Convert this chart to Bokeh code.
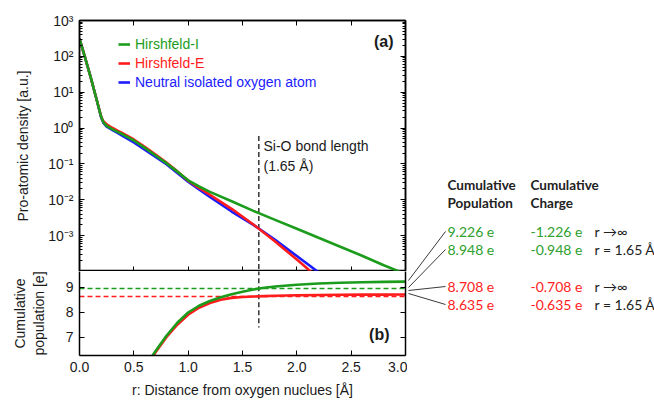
from bokeh.plotting import figure
from bokeh.layouts import column, row
from bokeh.models import (Range1d, LinearAxis, LogAxis, FixedTicker, PrintfTickFormatter,
                          Label, Legend, LegendItem, LinearScale)
from bokeh.core.properties import value
from bokeh.embed import file_html
from bokeh.resources import INLINE

# ---------------- data ----------------
# Pro-atomic densities [a.u.] against r [Å]
r_hi = [0.0, 0.05, 0.1, 0.15, 0.2, 0.22, 0.25, 0.3, 0.35, 0.4, 0.5, 0.6, 0.7, 0.8, 0.9, 1.0,
        1.1, 1.2, 1.4, 1.6, 1.8, 2.0, 2.2, 2.4, 2.6, 2.8, 3.0]
rho_hi = [3.1e2, 9.5e1, 2.8e1, 7.6e0, 2.0e0, 1.45e0, 1.15e0, 9.3e-1, 7.8e-1, 6.6e-1, 4.5e-1,
          2.8e-1, 1.72e-1, 1.05e-1, 6.1e-2, 3.5e-2, 2.35e-2, 1.66e-2, 9.1e-3, 4.9e-3, 2.75e-3,
          1.55e-3, 8.7e-4, 4.9e-4, 2.75e-4, 1.5e-4, 8.5e-5]
r_he = [0.0, 0.05, 0.1, 0.15, 0.2, 0.22, 0.25, 0.3, 0.35, 0.4, 0.5, 0.6, 0.7, 0.8, 0.9, 1.0,
        1.1, 1.2, 1.4, 1.6, 1.8, 2.0, 2.2]
rho_he = [3.1e2, 9.5e1, 2.8e1, 7.6e0, 2.05e0, 1.55e0, 1.27e0, 1.02e0, 8.5e-1, 7.1e-1, 4.8e-1,
          3.0e-1, 1.82e-1, 1.1e-1, 6.2e-2, 3.4e-2, 2.15e-2, 1.38e-2, 5.6e-3, 2.05e-3, 6.9e-4,
          2.15e-4, 6.5e-5]
r_neutral = [0.0, 0.05, 0.1, 0.15, 0.2, 0.22, 0.25, 0.3, 0.35, 0.4, 0.5, 0.6, 0.7, 0.8, 0.9,
             1.0, 1.1, 1.2, 1.4, 1.6, 1.8, 2.0, 2.2]
rho_neutral = [3.1e2, 9.5e1, 2.8e1, 7.6e0, 1.95e0, 1.4e0, 1.1e0, 8.9e-1, 7.3e-1, 6.0e-1, 4.0e-1,
               2.5e-1, 1.58e-1, 9.8e-2, 5.6e-2, 3.2e-2, 1.95e-2, 1.2e-2, 4.7e-3, 2.0e-3, 7.6e-4,
               2.7e-4, 9.5e-5]

# Cumulative populations [e] against r [Å]
r_cum = [0.6, 0.65, 0.7, 0.8, 0.9, 1.0, 1.1, 1.2, 1.3, 1.4, 1.5, 1.6, 1.7, 1.8,
         2.0, 2.2, 2.4, 2.6, 2.8, 3.0]
pop_hi = [5.78, 6.12, 6.45, 7.06, 7.58, 7.99, 8.26, 8.45, 8.60, 8.72, 8.82, 8.91, 8.98,
          9.03, 9.10, 9.15, 9.18, 9.20, 9.215, 9.226]
pop_he = [5.72, 6.06, 6.40, 7.00, 7.50, 7.90, 8.18, 8.37, 8.50, 8.575, 8.61, 8.628, 8.645,
          8.66, 8.68, 8.693, 8.70, 8.704, 8.706, 8.708]

bond_length = 1.65
pop_hi_at_bond = 8.948
pop_he_at_bond = 8.635

legend_labels = ["Hirshfeld-I", "Hirshfeld-E", "Neutral isolated oxygen atom"]
density_ticks = [1e-3, 1e-2, 1e-1, 1e0, 1e1, 1e2, 1e3]
density_tick_labels = ["10⁻³", "10⁻²", "10⁻¹", "10⁰", "10¹", "10²", "10³"]
pop_ticks = [7, 8, 9]
r_ticks = [0.0, 0.5, 1.0, 1.5, 2.0, 2.5, 3.0]

header_pop = ["Cumulative", "Population"]
header_charge = ["Cumulative", "Charge"]
table_pop = ["9.226 e", "8.948 e", "8.708 e", "8.635 e"]
table_charge = ["-1.226 e", "-0.948 e", "-0.708 e", "-0.635 e"]
table_cond = ["r →∞", "r = 1.65 Å", "r →∞", "r = 1.65 Å"]

# ---------------- style ----------------
FONT = "Liberation Sans"
ANN_FONT = "Lato"
GREEN = "#1c9c1c"
RED = "#ff1c1c"
BLUE = "#1c1cff"
TXT_GREEN = "#2ea02e"
TXT_RED = "#ff2222"
LW = 2.6

# page-pixel geometry of the two frames
FX0, FX1 = 79, 405
TOP_Y0, TOP_Y1 = 20, 271
BOT_Y0, BOT_Y1 = 271, 355
LEFT_W = FX1 + 2
PAGE_W, PAGE_H = 654, 402

minor_log = [k * 10.0 ** d for d in range(-4, 3) for k in range(2, 10)]


def style_axis(ax, labels=True):
    ax.axis_line_color = "black"
    ax.axis_line_width = 1.5
    ax.major_tick_in = 5
    ax.major_tick_out = 0
    ax.major_tick_line_color = "black"
    ax.minor_tick_in = 3
    ax.minor_tick_out = 0
    ax.minor_tick_line_color = "black"
    ax.major_label_text_font = FONT
    ax.major_label_text_font_size = "14px"
    ax.major_label_text_color = "#1a1a1a"
    ax.axis_label_text_font = FONT
    ax.axis_label_text_font_size = "14px"
    ax.axis_label_text_font_style = "normal"
    ax.axis_label_text_color = "#1a1a1a"
    if not labels:
        ax.major_label_text_font_size = "1px"
        ax.major_label_text_alpha = 0
        ax.major_label_standoff = 0


def base_fig(height, y_range, y_type, border_top, border_bottom, py0, py1):
    p = figure(width=LEFT_W, height=height, x_range=Range1d(0, 3), y_range=y_range,
               y_axis_type=y_type, x_axis_location=None, y_axis_location=None,
               output_backend="svg", toolbar_location=None,
               min_border_left=FX0, min_border_right=LEFT_W - FX1,
               min_border_top=border_top, min_border_bottom=border_bottom)
    p.xgrid.visible = False
    p.ygrid.visible = False
    p.outline_line_color = "black"
    p.outline_line_width = 1.5
    p.background_fill_color = "white"
    p.border_fill_color = "white"
    # page-pixel coordinate system for in-frame annotations
    p.extra_x_ranges = {"px": Range1d(FX0, FX1)}
    p.extra_y_ranges = {"px": Range1d(py1, py0)}
    p.extra_x_scales = {"px": LinearScale()}
    p.extra_y_scales = {"px": LinearScale()}
    return p


def px_label(p, x, y, text, size="14px", color="#1a1a1a", font=FONT, style="normal",
             align="left"):
    p.add_layout(Label(x=x, y=y, text=text, x_range_name="px", y_range_name="px",
                       text_font=font, text_font_size=size, text_color=color,
                       text_font_style=style, text_align=align, text_baseline="middle"))


# ---------------- top panel ----------------
top = base_fig(TOP_Y1, Range1d(1e-4, 1e3), "log", TOP_Y0, 0, TOP_Y0, TOP_Y1)

log_ticker = FixedTicker(ticks=density_ticks, minor_ticks=minor_log)
overrides = {t: s for t, s in zip(density_ticks, density_tick_labels)}
yl = LogAxis(ticker=log_ticker, major_label_overrides=overrides,
             axis_label="Pro-atomic density [a.u.]")
style_axis(yl)
yl.major_label_standoff = 6
yl.axis_label_standoff = 14
top.add_layout(yl, "left")
yr = LogAxis(ticker=FixedTicker(ticks=density_ticks, minor_ticks=minor_log))
style_axis(yr, labels=False)
top.add_layout(yr, "right")
for loc in ("above", "below"):
    ax = LinearAxis(ticker=FixedTicker(ticks=r_ticks))
    style_axis(ax, labels=False)
    ax.minor_tick_in = 0
    top.add_layout(ax, loc)

top.segment(x0=[bond_length], y0=[0.6], x1=[bond_length], y1=[1e-5],
            line_color="#333333", line_width=1.5, line_dash="5 3")
r_n = top.line(r_neutral, rho_neutral, line_color=BLUE, line_width=LW)
r_e = top.line(r_he, rho_he, line_color=RED, line_width=LW)
r_i = top.line(r_hi, rho_hi, line_color=GREEN, line_width=LW)

for i, (lab, rend, col) in enumerate(zip(legend_labels, [r_i, r_e, r_n],
                                         [GREEN, RED, BLUE])):
    centre = [43.5, 62.5, 81.5][i]
    lg = Legend(items=[LegendItem(label=lab, renderers=[rend])],
                location=(118 - FX0, TOP_Y1 - centre - 8),
                padding=0, margin=0, spacing=0, glyph_width=12, glyph_height=16,
                label_height=16, label_standoff=5, label_text_font=FONT,
                label_text_font_size="14px", label_text_color=col,
                border_line_alpha=0, background_fill_alpha=0)
    top.add_layout(lg, "center")

px_label(top, 263, 145, "Si-O bond length")
px_label(top, 263, 165, "(1.65 Å)")
px_label(top, 393, 41, "(a)", size="16px", style="bold", align="right")

# ---------------- bottom panel ----------------
bot = base_fig(PAGE_H - TOP_Y1, Range1d(6.27, 9.63), "linear", 0, PAGE_H - BOT_Y1,
               BOT_Y0, BOT_Y1)
bot.outline_line_color = None
yl2 = LinearAxis(ticker=FixedTicker(ticks=pop_ticks),
                 axis_label="Cumulative\npopulation [e]")
style_axis(yl2)
yl2.major_label_standoff = 6
yl2.axis_label_standoff = 16
bot.add_layout(yl2, "left")
yr2 = LinearAxis(ticker=FixedTicker(ticks=pop_ticks))
style_axis(yr2, labels=False)
bot.add_layout(yr2, "right")
ab = LinearAxis(ticker=FixedTicker(ticks=r_ticks))
style_axis(ab, labels=False)
ab.major_tick_in = 0
ab.axis_line_color = None
bot.add_layout(ab, "above")
xb = LinearAxis(ticker=FixedTicker(ticks=r_ticks), formatter=PrintfTickFormatter(format="%.1f"),
                axis_label="r: Distance from oxygen nuclues [Å]")
style_axis(xb)
xb.major_label_standoff = 6
xb.axis_label_standoff = 7
bot.add_layout(xb, "below")

bot.segment(x0=[0], y0=[pop_hi_at_bond], x1=[3], y1=[pop_hi_at_bond],
            line_color=GREEN, line_width=1.5, line_dash="5 3")
bot.segment(x0=[0], y0=[pop_he_at_bond], x1=[3], y1=[pop_he_at_bond],
            line_color=RED, line_width=1.5, line_dash="5 3")
bot.segment(x0=[bond_length], y0=[10], x1=[bond_length], y1=[7.39],
            line_color="#333333", line_width=1.5, line_dash="5 3")
bot.line(r_cum, pop_he, line_color=RED, line_width=LW)
bot.line(r_cum, pop_hi, line_color=GREEN, line_width=LW)
px_label(bot, 389, 334, "(b)", size="16px", style="bold", align="right")

# ---------------- right-hand table (page-pixel coordinates) ----------------
tab = figure(width=PAGE_W - LEFT_W, height=PAGE_H,
             x_range=Range1d(LEFT_W, PAGE_W), y_range=Range1d(PAGE_H, 0),
             x_axis_location=None, y_axis_location=None, output_backend="svg",
             toolbar_location=None, min_border=0)
tab.xgrid.visible = False
tab.ygrid.visible = False
tab.outline_line_color = None
tab.background_fill_color = "white"
tab.border_fill_color = "white"

row_y = [231, 249, 286, 304]
row_col = [TXT_GREEN, TXT_GREEN, TXT_RED, TXT_RED]
start_y = [280, 287, 290, 293]
tab.segment(x0=[408] * 4, y0=start_y, x1=[445] * 4, y1=row_y,
            line_color="#3a3a3a", line_width=1)

for xh, hdr in ((447, header_pop), (530, header_charge)):
    tab.text(x=[xh, xh], y=[184, 202], text=hdr, text_font=value(ANN_FONT),
             text_font_size="13.5px", text_font_style="bold", text_color="#222222",
             text_baseline="middle", text_align="left")

for xc, vals in ((447, table_pop), (530, table_charge)):
    for y, v, col in zip(row_y, vals, row_col):
        tab.text(x=[xc], y=[y], text=[v], text_font=value(ANN_FONT),
                 text_font_size="14px", text_color=col,
                 text_baseline="middle", text_align="left")
tab.text(x=[594] * 4, y=row_y, text=table_cond, text_font=value(ANN_FONT),
         text_font_size="14px", text_color="#222222",
         text_baseline="middle", text_align="left")

layout = row(column(top, bot, spacing=0), tab, spacing=0)
open("out.html", "w").write(file_html(layout, INLINE))
